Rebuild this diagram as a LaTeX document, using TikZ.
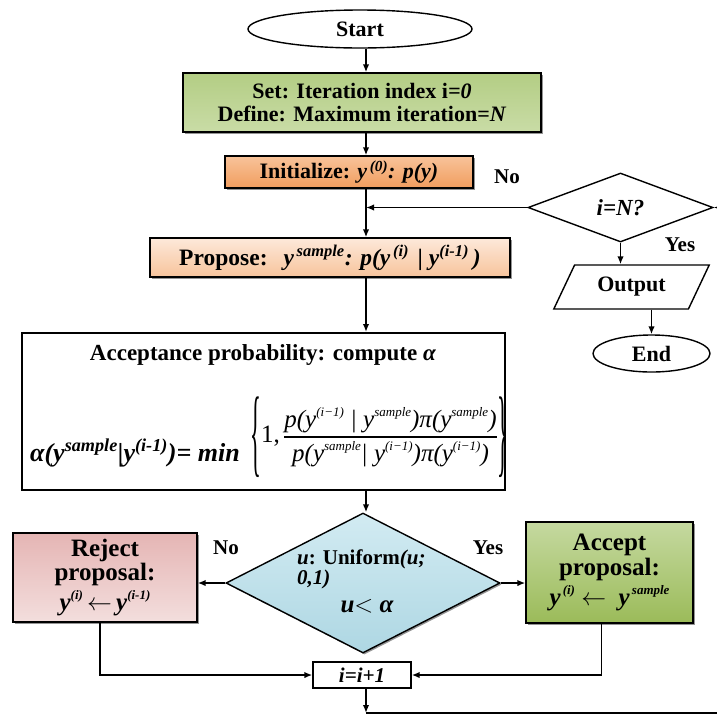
\documentclass[tikz,border=0pt]{standalone}
\usepackage{amsmath}
\usepackage{graphicx}
\usepackage{fontspec}
\setmainfont{Liberation Serif}
\usetikzlibrary{shapes.geometric,arrows.meta,shadows}
\definecolor{setT}{HTML}{B3CD84}
\definecolor{setB}{HTML}{C9DCA6}
\definecolor{initT}{HTML}{F8C39A}
\definecolor{initB}{HTML}{F19D5E}
\definecolor{propT}{HTML}{FDE9DA}
\definecolor{propB}{HTML}{F7C39B}
\definecolor{rejT}{HTML}{E5B5B4}
\definecolor{rejB}{HTML}{F3DEDD}
\definecolor{accT}{HTML}{C5D9A0}
\definecolor{accB}{HTML}{9BBB59}
\definecolor{decT}{HTML}{D2EBF2}
\definecolor{decB}{HTML}{AED7E3}
\newcommand{\fracfont}{\fontsize{25}{27}\selectfont\mdseries}
\newcommand{\hi}[1]{\raisebox{0.42em}{\fontsize{13}{13}\selectfont #1}}
\newcommand{\tallbrace}[1]{\vcenter{\hbox{\scalebox{0.9}[3.9]{\fracfont #1}}}}

\begin{document}
\begin{tikzpicture}[x=1pt, y=-1pt,
    every node/.style={font=\fontsize{22}{23.5}\selectfont\bfseries, inner sep=0pt},
    frame/.style={draw, line width=1.4pt},
    shade/.style={frame, drop shadow={shadow xshift=1.6pt, shadow yshift=-1.6pt, fill=black!60, opacity=0.7}},
    arr/.style={line width=1.6pt, -{Latex[length=8pt,width=6.5pt]}},
    wire/.style={line width=1.6pt}]
                        % Shapes, labels and arrows:
                        \useasboundingbox (0,0) rectangle (717,716);
                        \coordinate (Ax) at (366,0);
                        \coordinate (C1) at (721,713);
                        \node[frame, ellipse, minimum width=224pt, minimum height=38pt](E1) at (360,29){Start};
                        \node[shade, top color=setT, bottom color=setB, minimum width=358pt, minimum height=59pt, align=center](B1) at (362,102.5){Set: Iteration index i\textit{=0}\\Define: Maximum iteration=\textit{N}};
                        \node[shade, top color=initT, bottom color=initB, minimum width=248pt, minimum height=32pt](B2) at (349,172){Initialize: \textit{y\textsuperscript{\,(0)}: p(y)}};
                        \node[shade, top color=propT, bottom color=propB, minimum width=360pt, minimum height=39pt, font=\fontsize{23.5}{25}\selectfont\bfseries](B3) at (330,257.5){Propose:\hspace{16pt}\textit{y\textsuperscript{\,sample}: p(y\textsuperscript{\,(i)\,} | y\textsuperscript{(i-1)}\,)}};
                        \node[draw, line width=2pt, minimum width=483pt, minimum height=157pt](B4) at (263.5,411.5){};
                        \node[font=\fontsize{23}{25}\selectfont\bfseries](T1) at (263,355){Acceptance probability: compute \textit{α}};
                        \node[anchor=base west, font=\fontsize{26}{27}\selectfont\bfseries\itshape](T2) at (30,461){α(y\textsuperscript{sample}|y\textsuperscript{(i-1)})= min};
                        \node[anchor=west](T3) at (250,437){$\tallbrace{\{}\text{\fracfont 1,}\,\genfrac{}{}{1.3pt}{0}{\text{\fracfont\itshape p(y\hi{(i−1)} | y\hi{sample})π(y\hi{sample})}}{\text{\fracfont\itshape p(y\hi{sample}| y\hi{(i−1)})π(y\hi{(i−1)})}}\tallbrace{\}}$};
                        \node[shade, diamond, aspect=1.96, top color=decT, bottom color=decB, minimum width=274pt, minimum height=140pt](D1) at (363,583){};
                        \node[anchor=west, align=left, font=\fontsize{21}{17}\selectfont\bfseries](T4) at (297,569){\textit{u}: Uniform\textit{(u;}\\\textit{0,1)}};
                        \node[font=\fontsize{25}{27}\selectfont\bfseries\itshape](T5) at (367,606){u$<$ α};
                        \node[shade, top color=rejT, bottom color=rejB, minimum width=184pt, minimum height=89pt, align=center, font=\fontsize{25}{24}\selectfont\bfseries](B6) at (105,577.5){Reject\\proposal:\\[4pt]\textit{y\hi{(i)}\,$\leftarrow$\,y\hi{(i-1)}}};
                        \node[shade, top color=accT, bottom color=accB, minimum width=167pt, minimum height=101pt, align=center, font=\fontsize{25}{24.5}\selectfont\bfseries](B7) at (609.5,572.5){Accept\\proposal:\\[4pt]\textit{y\hi{\,(i)}\ $\leftarrow$\ \ y\hi{\,sample}}};
                        \node[frame, minimum width=98pt, minimum height=26pt, font=\fontsize{21}{22}\selectfont\bfseries\itshape](B8) at (362,675){i=i+1};
                        \node[frame, diamond, aspect=2.68, minimum width=185pt, minimum height=69pt, font=\fontsize{23}{25}\selectfont\bfseries\itshape](D2) at (620.5,207.5){i=N?};
                        \node[frame, trapezium, trapezium left angle=57, trapezium right angle=123, trapezium stretches=true, minimum width=157pt, minimum height=44pt](O1) at (631.5,287){Output};
                        \node[frame, ellipse, minimum width=117pt, minimum height=37pt](E2) at (651.5,353.5){End};
                        \node[font=\fontsize{21}{22}\selectfont\bfseries](L1) at (507,177){No};
                        \node[font=\fontsize{21}{22}\selectfont\bfseries](L2) at (680,245){Yes};
                        \node[font=\fontsize{21}{22}\selectfont\bfseries](L3) at (226,548){No};
                        \node[font=\fontsize{21}{22}\selectfont\bfseries](L4) at (488,548){Yes};
                        \draw[arr] (E1.south -| Ax) -- (B1.north -| Ax);
                        \draw[arr] (B1.south -| Ax) -- (B2.north -| Ax);
                        \draw[arr] (B2.south -| Ax) -- (B3.north -| Ax);
                        \draw[arr] (D2.west) -- (D2.west -| Ax);
                        \draw[arr] (B3.south -| Ax) -- (B4.north -| Ax);
                        \draw[arr] (B4.south -| Ax) -- (D1.north -| Ax);
                        \draw[arr] (D1.west) -- (D1.west -| B6.east);
                        \draw[arr] (D1.east) -- (D1.east -| B7.west);
                        \draw[arr] ([xshift=-5pt]B6.south) |- (B8.west);
                        \draw[arr] ([xshift=-8pt]B7.south) |- (B8.east);
                        \draw[arr] (B8.south -| Ax) -- (C1 -| Ax);
                        \draw[arr] (C1 -| Ax) -- (C1) -- (C1 |- D2.east) -- (D2.east);
                        \draw[arr] (D2.south) -- (D2.south |- O1.north);
                        \draw[arr] (O1.south -| E2.north) -- (E2.north);
                    \end{tikzpicture}
\end{document}
